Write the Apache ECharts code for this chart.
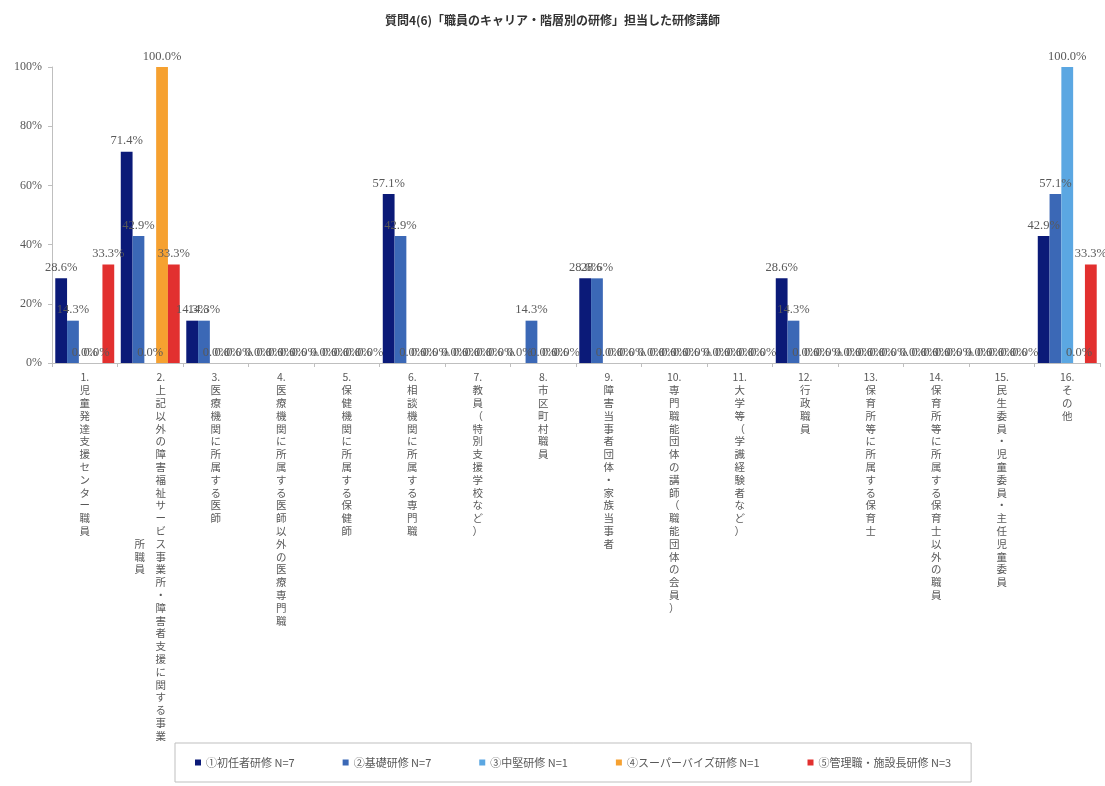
<!DOCTYPE html>
<html>
<head>
<meta charset="utf-8">
<script src="https://cdn.jsdelivr.net/npm/echarts@6/dist/echarts.min.js"></script>
<style>
  html, body { margin: 0; padding: 0; background: #fff; }
  #chart { width: 1105px; height: 786px; }
</style>
</head>
<body>
<div id="chart"></div>
<script>
// 研修講師のカテゴリ
var categories = [
  '1.児童発達支援センター職員',
  '2.上記以外の障害福祉サービス事業所・障害者支援に関する事業所職員',
  '3.医療機関に所属する医師',
  '4.医療機関に所属する医師以外の医療専門職',
  '5.保健機関に所属する保健師',
  '6.相談機関に所属する専門職',
  '7.教員（特別支援学校など）',
  '8.市区町村職員',
  '9.障害当事者団体・家族当事者',
  '10.専門職能団体の講師（職能団体の会員）',
  '11.大学等（学識経験者など）',
  '12.行政職員',
  '13.保育所等に所属する保育士',
  '14.保育所等に所属する保育士以外の職員',
  '15.民生委員・児童委員・主任児童委員',
  '16.その他'
];

var seriesNames = [
  '①初任者研修 N=7',
  '②基礎研修 N=7',
  '③中堅研修 N=1',
  '④スーパーバイズ研修 N=1',
  '⑤管理職・施設長研修 N=3'
];

var shoninsha = [28.6, 71.4, 14.3, 0, 0, 57.1, 0, 0, 28.6, 0, 0, 28.6, 0, 0, 0, 42.9];
var kiso      = [14.3, 42.9, 14.3, 0, 0, 42.9, 0, 14.3, 28.6, 0, 0, 14.3, 0, 0, 0, 57.1];
var chuken    = [0, 0, 0, 0, 0, 0, 0, 0, 0, 0, 0, 0, 0, 0, 0, 100];
var supervise = [0, 100, 0, 0, 0, 0, 0, 0, 0, 0, 0, 0, 0, 0, 0, 0];
var kanri     = [33.3, 33.3, 0, 0, 0, 0, 0, 0, 0, 0, 0, 0, 0, 0, 0, 33.3];

var colors = ['#0b1a78', '#3b68b6', '#5ba7e2', '#f6a130', '#e2302f'];

// 縦書き（1文字ずつ改行、長いものは左に2列目）
function verticalLabel(value) {
  var m = value.match(/^(\d+\.)(.*)$/);
  var prefix = m ? m[1] : '';
  var rest = m ? m[2] : value;
  var maxRows = 28;
  var col1 = rest.slice(0, maxRows).split('');
  var col2 = rest.slice(maxRows).split('');
  var rows = [prefix].concat(col1);
  if (!col2.length) return rows.join('\n');
  var offset = Math.floor((rows.length - col2.length) / 2);
  return rows.map(function (ch, i) {
    var left = col2[i - offset] || '　';
    return left + '　' + ch;
  }).join('\n');
}

var chart = echarts.init(document.getElementById('chart'));
var fontFamily = '"Noto Sans CJK JP", "Noto Sans", sans-serif';
var numFont = '"Liberation Serif", "DejaVu Serif", serif';

var dataSets = [shoninsha, kiso, chuken, supervise, kanri];
var series = dataSets.map(function (d, i) {
  return {
    name: seriesNames[i],
    type: 'bar',
    data: d,
    barGap: 0,
    barCategoryGap: '10%',
    itemStyle: { color: colors[i] },
    label: {
      show: true,
      position: 'top',
      distance: 4,
      fontSize: 12.5,
      color: '#595959',
      fontFamily: numFont,
      formatter: function (p) { return p.value.toFixed(1) + '%'; }
    }
  };
});

chart.setOption({
  color: colors,
  textStyle: { fontFamily: fontFamily },
  title: {
    text: '質問4(6)「職員のキャリア・階層別の研修」担当した研修講師',
    left: 'center',
    top: 9,
    textStyle: { fontSize: 12, fontWeight: 'bold', color: '#333', fontFamily: fontFamily }
  },
  legend: {
    bottom: 4,
    left: 175,
    icon: 'rect',
    itemWidth: 6,
    itemHeight: 6,
    itemGap: 48,
    padding: [14, 20],
    borderColor: '#bfbfbf',
    borderWidth: 1,
    textStyle: { fontSize: 11, color: '#595959' },
    data: seriesNames
  },
  grid: { left: 52, right: 5, top: 67, bottom: 423 },
  xAxis: {
    type: 'category',
    data: categories,
    axisLine: { lineStyle: { color: '#bfbfbf' } },
    axisTick: { show: true, length: 4, lineStyle: { color: '#bfbfbf' } },
    axisLabel: {
      interval: 0,
      margin: 8,
      fontSize: 10.5,
      lineHeight: 12.8,
      color: '#595959',
      formatter: verticalLabel
    }
  },
  yAxis: {
    type: 'value',
    min: 0,
    max: 100,
    interval: 20,
    axisLine: { show: true, lineStyle: { color: '#bfbfbf' } },
    axisTick: { show: true, length: 4, lineStyle: { color: '#bfbfbf' } },
    splitLine: { show: false },
    axisLabel: { formatter: '{value}%', fontSize: 12, color: '#595959', margin: 10, fontFamily: numFont }
  },
  series: series
});
</script>
</body>
</html>
